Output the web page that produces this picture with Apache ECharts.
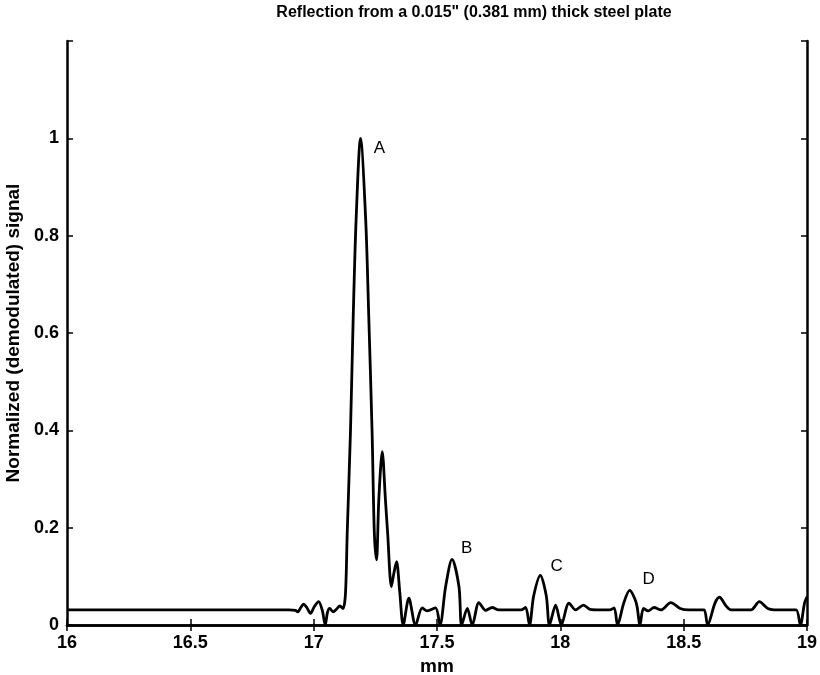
<!DOCTYPE html>
<html>
<head>
<meta charset="utf-8">
<script src="https://cdn.jsdelivr.net/npm/echarts@6/dist/echarts.min.js"></script>
<style>
  html, body { margin: 0; padding: 0; background: #fff; }
  #chart { width: 820px; height: 675px; }
</style>
</head>
<body>
<div id="chart"></div>
<script>
// Demodulated echo envelope: position (mm) and normalized amplitude
const positionMm = [
  16.0, 16.5, 16.9, 16.926, 16.935, 16.948, 16.959, 16.972, 16.987, 17.003,
  17.020, 17.035, 17.047, 17.056, 17.065, 17.079, 17.093, 17.106, 17.119, 17.129,
  17.136, 17.149, 17.160, 17.172, 17.190, 17.211, 17.223, 17.237, 17.246, 17.255,
  17.264, 17.278, 17.291, 17.300, 17.315, 17.325, 17.336, 17.349, 17.363, 17.386,
  17.413, 17.440, 17.460, 17.494, 17.512, 17.535, 17.561, 17.589, 17.600, 17.623,
  17.643, 17.670, 17.697, 17.724, 17.750, 17.800, 17.840, 17.859, 17.875, 17.892,
  17.919, 17.943, 17.956, 17.981, 18.004, 18.035, 18.062, 18.094, 18.121, 18.160,
  18.200, 18.218, 18.232, 18.257, 18.281, 18.308, 18.323, 18.337, 18.356, 18.380,
  18.408, 18.448, 18.486, 18.520, 18.560, 18.583, 18.597, 18.627, 18.645, 18.672,
  18.692, 18.740, 18.773, 18.807, 18.841, 18.880, 18.920, 18.956, 18.973, 18.990,
  19.0
];
const signal = [
  0.031, 0.031, 0.031, 0.030, 0.027, 0.036, 0.043, 0.036, 0.024, 0.038,
  0.048, 0.030, 0.0, 0.026, 0.034, 0.027, 0.033, 0.039, 0.034, 0.065,
  0.189, 0.394, 0.626, 0.832, 1.0, 0.832, 0.640, 0.394, 0.189, 0.134,
  0.257, 0.356, 0.257, 0.188, 0.079, 0.106, 0.130, 0.068, 0.0, 0.055,
  0.0, 0.035, 0.029, 0.035, 0.0, 0.079, 0.135, 0.079, 0.0, 0.034,
  0.0, 0.046, 0.030, 0.036, 0.031, 0.031, 0.031, 0.036, 0.0, 0.060,
  0.102, 0.060, 0.0, 0.041, 0.0, 0.045, 0.031, 0.041, 0.032, 0.031,
  0.031, 0.035, 0.0, 0.045, 0.071, 0.045, 0.0, 0.034, 0.029, 0.036,
  0.031, 0.046, 0.034, 0.031, 0.031, 0.031, 0.0, 0.045, 0.057, 0.039,
  0.031, 0.031, 0.031, 0.048, 0.034, 0.031, 0.031, 0.031, 0.0, 0.045,
  0.058
];

// Echo labels and where they sit
const echoNames = ['A', 'B', 'C', 'D'];
const echoX = [17.267, 17.620, 17.985, 18.358];
const echoY = [0.980, 0.158, 0.121, 0.094];

const xTicks = [16, 16.5, 17, 17.5, 18, 18.5, 19];
const yTicks = [0, 0.2, 0.4, 0.6, 0.8, 1];

const chart = echarts.init(document.getElementById('chart'));
const FONT = 'Liberation Sans, Arial, Helvetica, sans-serif';

const axisLine = { show: true, lineStyle: { color: '#000', width: 2.5 } };
const axisTick = { show: true, inside: true, length: 6, lineStyle: { color: '#000', width: 1.5 } };

chart.setOption({
  animation: false,
  backgroundColor: '#fff',
  grid: { left: 67, right: 13, top: 41, bottom: 50, containLabel: false, outerBoundsMode: 'none' },
  graphic: [{
    type: 'text',
    x: 474, y: 5,
    style: {
      text: 'Reflection from a 0.015" (0.381 mm) thick steel plate',
      fill: '#000',
      font: 'bold 16px ' + FONT,
      textAlign: 'center'
    }
  }],
  xAxis: [{
    type: 'value',
    position: 'bottom',
    min: 16, max: 19, interval: 0.5,
    name: 'mm',
    nameLocation: 'middle',
    nameGap: 32,
    nameTextStyle: { color: '#000', fontFamily: FONT, fontWeight: 'bold', fontSize: 19 },
    axisLine: axisLine,
    axisTick: axisTick,
    splitLine: { show: false },
    axisLabel: {
      color: '#000', fontFamily: FONT, fontWeight: 'bold', fontSize: 18, margin: 9,
      formatter: v => (xTicks.some(t => Math.abs(t - v) < 1e-9) ? String(v) : '')
    }
  }, {
    type: 'value',
    position: 'top',
    min: 16, max: 19, interval: 0.5,
    axisLine: axisLine,
    axisTick: axisTick,
    splitLine: { show: false },
    axisLabel: { show: false }
  }],
  yAxis: [{
    type: 'value',
    position: 'left',
    min: 0, max: 1.2, interval: 0.2,
    name: 'Normalized (demodulated) signal',
    nameLocation: 'middle',
    nameRotate: 90,
    nameGap: 36,
    nameTextStyle: { color: '#000', fontFamily: FONT, fontWeight: 'bold', fontSize: 19 },
    axisLine: axisLine,
    axisTick: axisTick,
    splitLine: { show: false },
    axisLabel: {
      color: '#000', fontFamily: FONT, fontWeight: 'bold', fontSize: 18, margin: 8,
      formatter: v => (yTicks.some(t => Math.abs(t - v) < 1e-9) ? String(+v.toFixed(1)) : '')
    }
  }, {
    type: 'value',
    position: 'right',
    min: 0, max: 1.2, interval: 0.2,
    axisLine: axisLine,
    axisTick: axisTick,
    splitLine: { show: false },
    axisLabel: { show: false }
  }],
  series: [{
    type: 'line',
    xAxisIndex: 0,
    yAxisIndex: 0,
    data: positionMm.map((x, i) => [x, signal[i]]),
    showSymbol: false,
    smooth: 0.3,
    lineStyle: { color: '#000', width: 2.8 },
    clip: true
  }, {
    type: 'scatter',
    xAxisIndex: 0,
    yAxisIndex: 0,
    symbolSize: 0,
    itemStyle: { opacity: 1 },
    data: echoNames.map((n, i) => ({ name: n, value: [echoX[i], echoY[i]] })),
    label: {
      show: true,
      position: 'inside',
      formatter: p => p.name,
      color: '#000',
      opacity: 1,
      fontFamily: FONT,
      fontSize: 17
    }
  }]
});
</script>
</body>
</html>
